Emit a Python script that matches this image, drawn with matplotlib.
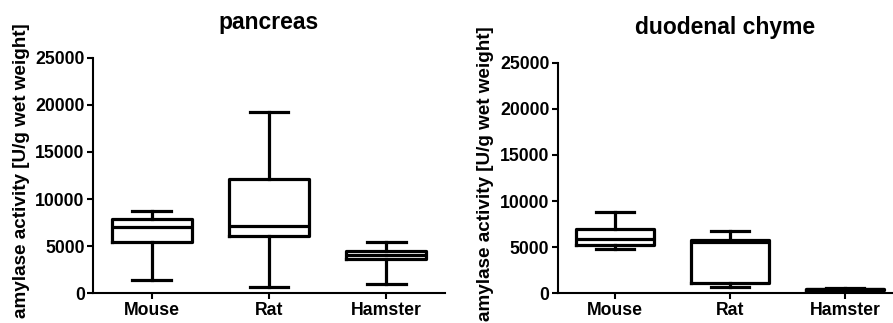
import matplotlib
matplotlib.use("Agg")
import matplotlib.pyplot as plt

plt.rcParams['font.family'] = ['Liberation Sans', 'DejaVu Sans']
plt.rcParams['font.weight'] = 'bold'

categories = ["Mouse", "Rat", "Hamster"]

# pancreas: whisker low, Q1, median, Q3, whisker high
panc_low = [1400, 700, 950]
panc_q1 = [5400, 6080, 3600]
panc_med = [7040, 7180, 4030]
panc_q3 = [7890, 12100, 4530]
panc_high = [8770, 19200, 5480]

# duodenal chyme
duo_low = [4770, 720, 260]
duo_q1 = [5240, 1160, 340]
duo_med = [5920, 5600, 430]
duo_q3 = [6970, 5780, 520]
duo_high = [8810, 6720, 600]

yticks = [0, 5000, 10000, 15000, 20000, 25000]

fig = plt.figure(figsize=(8.93, 3.23), dpi=100)

def panel(rect, title, low, q1, med, q3, high, xmax, label_y):
    ax = fig.add_axes(rect)
    stats = []
    for i in range(len(categories)):
        stats.append(dict(whislo=low[i], q1=q1[i], med=med[i], q3=q3[i],
                          whishi=high[i], label=categories[i], fliers=[]))
    lw = 2.3
    ax.bxp(stats, positions=range(len(categories)), widths=0.68,
           showfliers=False,
           boxprops=dict(color='black', linewidth=lw),
           whiskerprops=dict(color='black', linewidth=lw),
           capprops=dict(color='black', linewidth=lw),
           medianprops=dict(color='black', linewidth=lw),
           capwidths=0.33)
    ax.set_xlim(-0.5, xmax)
    ax.set_ylim(0, 25000)
    ax.set_yticks(yticks)
    ax.set_yticklabels([str(v) for v in yticks])
    ax.set_xticks(range(len(categories)))
    ax.set_xticklabels(categories)
    for s in ['top', 'right']:
        ax.spines[s].set_visible(False)
    for s in ['left', 'bottom']:
        ax.spines[s].set_linewidth(1.5)
        ax.spines[s].set_color('black')
    ax.tick_params(axis='both', direction='out', length=4, width=1.5,
                   labelsize=12.7, colors='black', pad=2)
    for lab in ax.get_xticklabels() + ax.get_yticklabels():
        lab.set_fontweight('bold')
    ax.set_title(title, fontsize=16.5, fontweight='bold', pad=21)
    ax.set_ylabel("amylase activity [U/g wet weight]", fontsize=13.6,
                  fontweight='bold', labelpad=4)
    ax.yaxis.label.set_y(label_y)
    return ax

ax1 = panel([0.1041, 0.0919, 0.3942, 0.7295], "pancreas",
            panc_low, panc_q1, panc_med, panc_q3, panc_high, 2.5, 0.52)
ax2 = panel([0.6245, 0.0919, 0.3755, 0.714], "duodenal chyme",
            duo_low, duo_q1, duo_med, duo_q3, duo_high, 2.416, 0.52)

fig.savefig("out.png", dpi=100)
